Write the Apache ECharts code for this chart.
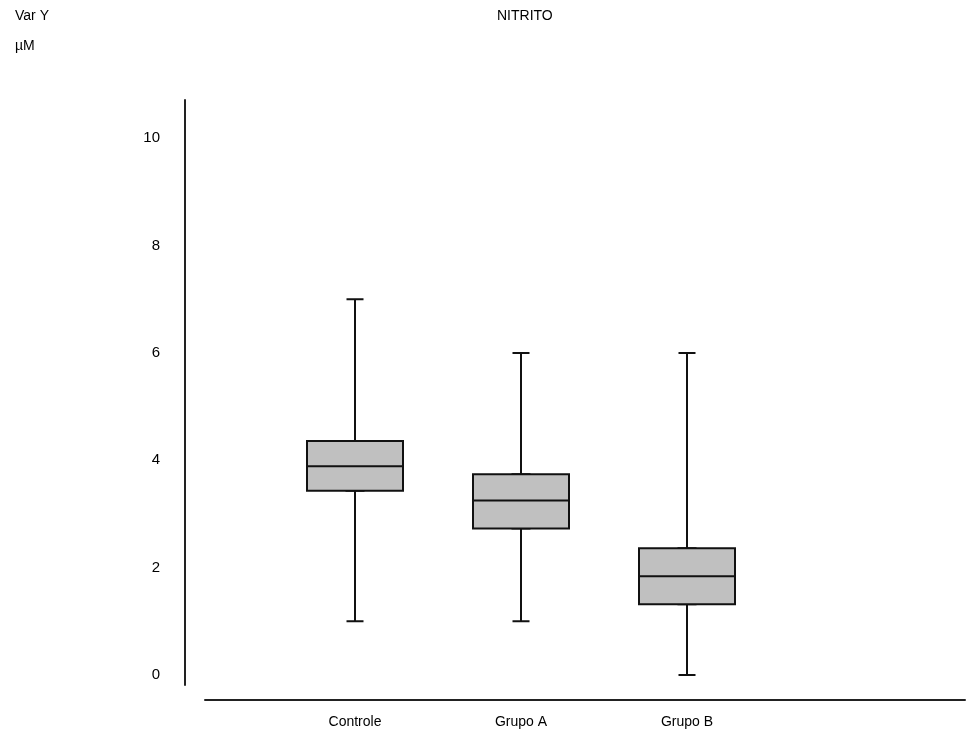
<!DOCTYPE html>
<html>
<head>
<meta charset="utf-8">
<script src="https://cdn.jsdelivr.net/npm/echarts@6/dist/echarts.min.js"></script>
<style>
  html, body { margin: 0; padding: 0; background: #fff; }
  #chart { width: 977px; height: 740px; }
</style>
</head>
<body>
<div id="chart"></div>
<script>
var categories = ['Controle', 'Grupo A', 'Grupo B'];
var whiskerLow = [1, 1, 0];
var q1 = [3.43, 2.73, 1.32];
var median = [3.89, 3.25, 1.84];
var q3 = [4.36, 3.74, 2.36];
var whiskerHigh = [7, 6, 6];
var yTicks = [0, 2, 4, 6, 8, 10];

(function () {
    var chart = echarts.init(document.getElementById('chart'));
    var font = '"Liberation Sans", Arial, sans-serif';

    // full whiskers with narrow caps (drawn under the box)
    var whiskerData = categories.map(function (c, i) {
        return [whiskerLow[i], q1[i], median[i], q3[i], whiskerHigh[i]];
    });
    // the wide box itself, whiskers collapsed onto the box edges
    var boxData = categories.map(function (c, i) {
        return [q1[i], q1[i], median[i], q3[i], q3[i]];
    });

    var option = {
        animation: false,
        backgroundColor: '#fff',
        textStyle: { fontFamily: font },
        title: [
            { text: 'Var Y', left: 10, top: 4, textStyle: { fontSize: 14, fontWeight: 'normal', color: '#000', fontFamily: font } },
            { text: 'µM', left: 10, top: 34, textStyle: { fontSize: 14, fontWeight: 'normal', color: '#000', fontFamily: font } },
            { text: 'NITRITO', left: 492, top: 4, textStyle: { fontSize: 14, fontWeight: 'normal', color: '#000', fontFamily: font } }
        ],
        grid: [
            { left: 272, right: 207, top: 100, bottom: 55 },
            { left: 205, right: 12, top: 100, bottom: 40 }
        ],
        xAxis: [
            {
                type: 'category', gridIndex: 0, data: categories,
                axisLine: { show: false }, axisTick: { show: false },
                axisLabel: { margin: 30, fontSize: 14, color: '#000', fontFamily: font }
            },
            {
                type: 'category', gridIndex: 0, data: categories, show: false
            },
            {
                type: 'value', gridIndex: 1, min: 0, max: 1,
                axisLine: { show: true, lineStyle: { color: '#222', width: 2 } },
                axisTick: { show: false }, axisLabel: { show: false }, splitLine: { show: false }
            }
        ],
        yAxis: [
            {
                type: 'value', gridIndex: 0, min: -0.186, max: 10.71, offset: 87,
                axisLine: { show: true, lineStyle: { color: '#222', width: 2 } },
                axisTick: { show: false },
                splitLine: { show: false },
                axisLabel: { customValues: yTicks, margin: 25, fontSize: 15, color: '#000', fontFamily: font }
            },
            {
                type: 'value', gridIndex: 1, show: false, min: 0, max: 1, splitLine: { show: false }
            }
        ],
        series: [
            {
                type: 'boxplot', xAxisIndex: 1, yAxisIndex: 0, z: 2,
                boxWidth: [17, 17],
                data: whiskerData,
                itemStyle: { color: '#c0c0c0', borderColor: '#111', borderWidth: 2 },
                silent: true
            },
            {
                type: 'boxplot', xAxisIndex: 0, yAxisIndex: 0, z: 3,
                boxWidth: [96, 96],
                data: boxData,
                itemStyle: { color: '#c0c0c0', borderColor: '#111', borderWidth: 2 },
                silent: true
            }
        ]
    };
    chart.setOption(option);
    window.addEventListener('resize', chart.resize);
})();
</script>
</body>
</html>
